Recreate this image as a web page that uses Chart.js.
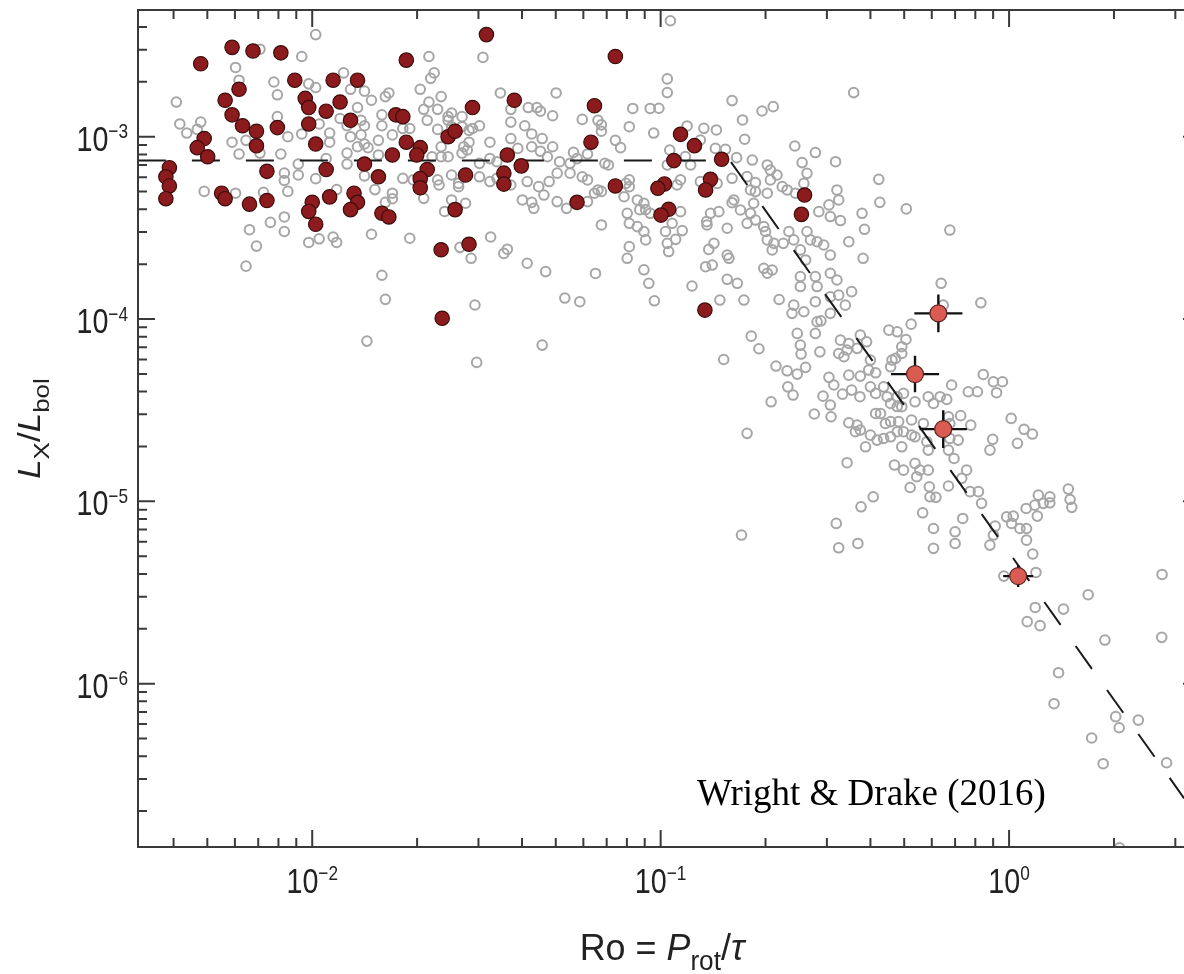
<!DOCTYPE html>
<html lang="en">
<head>
<meta charset="UTF-8" />
<title>Lx/Lbol vs Rossby number</title>
<script src="https://cdn.jsdelivr.net/npm/chart.js"></script>
<style>
  body { margin: 0; background: #fff; }
  #wrap { position: relative; width: 1184px; height: 974px; }
</style>
</head>
<body>
<div id="wrap"><canvas id="rossby"></canvas></div>
<script>
// every star is [log10 Ro, log10 Lx/Lbol]
const grayStars = [
  // Ro < 0.018
  [-1.99,-2.44],[-2.15,-2.52],[-2.03,-2.56],[-2.22,-2.62],[-1.91,-2.65],[-2.21,-2.69],[-2.11,-2.70],[-2.01,-2.71],
  [-1.99,-2.73],[-1.89,-2.74],[-1.85,-2.75],[-1.78,-2.76],[-1.79,-2.78],[-2.10,-2.77],[-1.83,-2.80],[-2.39,-2.81],
  [-1.87,-2.84],[-1.80,-2.88],[-2.10,-2.89],[-1.92,-2.90],[-1.86,-2.91],[-2.32,-2.92],[-1.98,-2.93],[-2.38,-2.93],
  [-1.90,-2.94],[-1.85,-2.94],[-1.80,-2.94],[-2.33,-2.96],[-2.36,-2.98],[-1.95,-2.98],[-2.03,-2.985],[-1.86,-2.99],
  [-1.77,-2.99],[-2.07,-3.00],[-1.89,-3.00],[-2.19,-3.02],[-1.81,-3.02],[-2.23,-3.03],[-1.95,-3.03],[-1.85,-3.04],
  [-1.84,-3.06],[-1.87,-3.055],[-2.15,-3.09],[-1.90,-3.09],[-2.21,-3.095],[-2.09,-3.095],[-1.81,-3.10],[-1.96,-3.12],
  [-2.04,-3.15],[-1.90,-3.15],[-2.08,-3.20],[-2.04,-3.21],[-1.85,-3.215],[-1.99,-3.23],[-2.08,-3.24],[-1.93,-3.29],
  [-1.82,-3.29],[-2.31,-3.30],[-2.07,-3.30],[-2.14,-3.305],[-2.22,-3.31],[-1.77,-3.31],[-1.77,-3.34],[-1.79,-3.36],
  [-2.08,-3.44],[-2.12,-3.47],[-2.18,-3.51],[-2.08,-3.52],[-1.83,-3.535],[-1.94,-3.55],[-1.98,-3.56],[-1.93,-3.58],
  [-2.01,-3.58],[-2.16,-3.60],[-2.19,-3.71],[-1.80,-3.76],[-1.79,-3.892],[-1.843,-4.121],
  // 0.018 < Ro < 0.1
  [-1.665,-2.56],[-1.51,-2.565],[-1.65,-2.65],[-1.66,-2.68],[-1.69,-2.74],[-1.63,-2.78],[-1.665,-2.81],[-1.46,-2.76],
  [-1.30,-2.76],[-1.68,-2.85],[-1.64,-2.85],[-1.61,-2.89],[-1.60,-2.87],[-1.57,-2.89],[-1.67,-2.91],[-1.74,-2.955],
  [-1.72,-2.955],[-1.64,-2.96],[-1.61,-2.91],[-1.60,-2.945],[-1.57,-2.945],[-1.55,-2.965],[-1.54,-2.955],[-1.52,-2.94],
  [-1.49,-3.03],[-1.43,-2.85],[-1.38,-2.84],[-1.355,-2.84],[-1.345,-2.86],[-1.31,-2.885],[-1.225,-2.905],[-1.18,-2.91],
  [-1.17,-2.935],[-1.17,-2.97],[-1.13,-3.02],[-1.115,-3.06],[-1.08,-2.845],[-1.03,-2.845],[-1.09,-2.945],[-1.02,-2.98],
  [-1.43,-2.92],[-1.39,-2.94],[-1.37,-2.985],[-1.34,-3.01],[-1.43,-3.01],[-1.41,-3.064],[-1.37,-3.055],[-1.345,-3.08],
  [-1.31,-3.055],[-1.325,-3.11],[-1.29,-3.137],[-1.26,-3.146],[-1.25,-3.086],[-1.24,-3.12],[-1.21,-3.095],[-1.16,-3.146],
  [-1.15,-3.155],[-1.63,-3.055],[-1.656,-3.11],[-1.63,-3.11],[-1.61,-3.11],[-1.565,-3.055],[-1.55,-3.03],[-1.555,-3.073],
  [-1.57,-3.09],[-1.52,-3.146],[-1.49,-3.12],[-1.47,-3.137],[-1.74,-3.228],[-1.71,-3.237],[-1.64,-3.237],[-1.636,-3.265],
  [-1.60,-3.21],[-1.58,-3.256],[-1.58,-3.274],[-1.52,-3.22],[-1.49,-3.246],[-1.47,-3.228],[-1.43,-3.265],[-1.383,-3.246],
  [-1.35,-3.274],[-1.32,-3.246],[-1.297,-3.20],[-1.26,-3.20],[-1.225,-3.22],[-1.21,-3.237],[-1.18,-3.292],[-1.17,-3.30],
  [-1.19,-3.31],[-1.397,-3.347],[-1.37,-3.36],[-1.364,-3.393],[-1.335,-3.32],[-1.297,-3.356],[-1.27,-3.393],[-1.21,-3.356],
  [-1.68,-3.338],[-1.62,-3.41],[-1.60,-3.347],[-1.56,-3.365],[-1.17,-3.484],[-1.10,-3.256],[-1.09,-3.274],[-1.105,-3.329],
  [-1.09,-3.237],[-1.067,-3.347],[-1.048,-3.365],[-1.06,-3.40],[-1.043,-3.40],[-1.096,-3.42],[-1.03,-3.42],[-1.09,-3.475],
  [-1.067,-3.493],[-1.048,-3.52],[-1.043,-3.566],[-1.09,-3.603],[-1.096,-3.667],[-1.048,-3.73],[-1.034,-3.804],[-1.187,-3.75],
  [-1.33,-3.74],[-1.383,-3.694],[-1.44,-3.617],[-1.45,-3.64],[-1.488,-3.55],[-1.544,-3.667],[-1.576,-3.607],[-1.72,-3.557],
  [-1.533,-3.923],[-1.275,-3.885],[-1.232,-3.905],[-1.018,-3.90],[-1.528,-4.238],[-1.34,-4.143],
  // 0.1 < Ro < 0.5, upper part
  [-0.972,-2.364],[-0.981,-2.683],[-0.981,-2.758],[-1.005,-2.844],[-0.795,-2.802],[-0.765,-2.908],[-0.759,-3.014],[-0.709,-2.859],
  [-0.677,-2.835],[-0.446,-2.758],[-0.924,-2.941],[-0.876,-2.954],[-0.840,-2.963],[-0.886,-3.018],[-0.843,-3.064],[-0.814,-3.069],
  [-0.974,-3.073],[-0.929,-3.109],[-0.914,-3.155],[-0.782,-3.115],[-0.737,-3.128],[-0.981,-3.155],[-0.943,-3.237],[-0.953,-3.265],
  [-0.886,-3.246],[-0.838,-3.256],[-0.795,-3.228],[-0.752,-3.219],[-0.728,-3.252],[-0.742,-3.292],[-0.694,-3.155],[-0.685,-3.183],
  [-0.666,-3.21],[-0.685,-3.237],[-0.694,-3.31],[-0.651,-3.274],[-0.637,-3.292],[-0.613,-3.31],[-0.615,-3.051],[-0.556,-3.087],
  [-0.498,-3.137],[-0.594,-3.142],[-0.580,-3.201],[-0.589,-3.256],[-0.494,-3.292],[-0.489,-3.347],[-0.517,-3.374],[-0.546,-3.411],
  [-0.513,-3.438],[-0.484,-3.46],[-0.422,-3.42],[-0.374,-3.234],[-0.371,-3.36],[-0.295,-3.396],[-0.415,-3.508],[-0.46,-3.576],
  [-0.419,-3.667],[-0.790,-3.347],[-0.795,-3.362],[-0.771,-3.402],[-0.742,-3.42],[-0.728,-3.457],[-0.752,-3.475],[-0.733,-3.365],
  [-0.728,-3.301],[-0.943,-3.411],[-0.938,-3.515],[-0.967,-3.475],[-0.986,-3.52],[-0.981,-3.585],[-0.977,-3.63],[-0.957,-3.563],
  [-0.868,-3.466],[-0.833,-3.411],[-0.857,-3.42],[-0.867,-3.484],[-0.809,-3.502],[-0.847,-3.585],[-0.862,-3.618],[-0.809,-3.649],
  [-0.804,-3.667],[-0.704,-3.493],[-0.699,-3.52],[-0.694,-3.566],[-0.675,-3.585],[-0.68,-3.621],[-0.648,-3.585],[-0.632,-3.52],
  [-0.618,-3.566],[-0.599,-3.621],[-0.58,-3.52],[-0.57,-3.566],[-0.551,-3.576],[-0.532,-3.594],[-0.513,-3.649],[-0.584,-3.676],
  [-0.556,-3.767],[-0.513,-3.749],[-0.494,-3.786],[-0.551,-3.822],[-0.599,-3.767],[-0.599,-3.822],[-0.68,-3.731],[-0.704,-3.722],
  [-0.694,-3.749],[-0.78,-3.804],[-0.809,-3.782],[-0.91,-3.819],[-0.871,-3.713],[-0.852,-3.704],[-0.170,-3.512],[-0.195,-3.804],
  // 0.1 < Ro < 0.5, lower part
  [-0.83,-3.896],[-0.761,-3.896],[-0.66,-3.893],[-0.623,-3.969],[-0.589,-3.96],[-0.618,-3.924],[-0.556,-3.905],[-0.513,-3.878],
  [-0.470,-3.924],[-0.452,-3.85],[-0.489,-3.869],[-0.551,-4.015],[-0.54,-4.01],[-0.513,-3.969],[-0.556,-4.079],[-0.608,-4.079],
  [-0.74,-4.094],[-0.718,-4.163],[-0.819,-4.222],[-0.669,-4.258],[-0.637,-4.284],[-0.608,-4.302],[-0.584,-4.265],[-0.599,-4.143],
  [-0.597,-4.192],[-0.543,-4.18],[-0.484,-4.116],[-0.489,-4.189],[-0.465,-4.17],[-0.474,-4.207],[-0.46,-4.134],[-0.436,-4.161],
  [-0.427,-4.088],[-0.409,-4.125],[-0.345,-4.061],[-0.321,-4.07],[-0.398,-4.225],[-0.403,-4.28],[-0.46,-4.308],[-0.427,-4.313],
  [-0.383,-4.295],[-0.34,-4.262],[-0.336,-4.225],[-0.326,-4.216],[-0.517,-4.32],[-0.503,-4.362],[-0.478,-4.412],[-0.452,-4.39],
  [-0.428,-4.426],[-0.398,-4.372],[-0.383,-4.408],[-0.36,-4.372],[-0.35,-4.426],[-0.340,-4.463],[-0.321,-4.426],[-0.321,-4.48],
  [-0.635,-4.372],[-0.62,-4.417],[-0.683,-4.454],[-0.534,-4.423],[-0.513,-4.472],[-0.559,-4.521],[-0.511,-4.536],[-0.46,-4.569],
  [-0.436,-4.582],[-0.441,-4.618],[-0.427,-4.609],[-0.412,-4.701],[-0.398,-4.637],[-0.379,-4.664],[-0.36,-4.655],[-0.34,-4.646],
  [-0.383,-4.518],[-0.369,-4.518],[-0.34,-4.563],[-0.317,-4.563],[-0.321,-4.618],[-0.355,-4.573],[-0.752,-4.627],[-0.465,-4.788],
  [-0.329,-4.801],[-0.39,-4.975],[-0.425,-5.03],[-0.496,-5.121],[-0.434,-5.231],[-0.768,-5.185],[-0.489,-5.255],
  // Ro > 0.5
  [-0.081,-3.911],[-0.189,-3.924],[-0.281,-4.028],[-0.296,-4.112],[-0.308,-4.152],[-0.308,-4.189],[-0.074,-4.304],[-0.045,-4.344],
  [-0.019,-4.344],[-0.036,-4.404],[-0.117,-4.399],[-0.091,-4.399],[-0.165,-4.362],[-0.232,-4.426],[-0.217,-4.463],[-0.198,-4.426],
  [-0.179,-4.441],[-0.27,-4.454],[-0.303,-4.408],[-0.308,-4.481],[-0.28,-4.554],[-0.246,-4.573],[-0.303,-4.618],[-0.28,-4.637],
  [-0.27,-4.646],[-0.308,-4.701],[-0.236,-4.673],[-0.232,-4.719],[-0.174,-4.536],[-0.139,-4.53],[-0.11,-4.582],[-0.17,-4.573],
  [-0.146,-4.664],[-0.17,-4.655],[-0.174,-4.719],[-0.158,-4.765],[0.006,-4.545],[0.043,-4.605],[0.067,-4.631],[0.024,-4.682],
  [-0.047,-4.66],[-0.055,-4.719],[-0.303,-4.829],[-0.27,-4.792],[-0.256,-4.829],[-0.232,-4.829],[-0.265,-4.865],[-0.284,-4.924],
  [-0.229,-4.92],[-0.227,-4.975],[-0.21,-4.978],[-0.174,-4.916],[-0.136,-4.874],[-0.122,-4.829],[-0.112,-4.947],[-0.088,-4.947],
  [-0.079,-5.011],[-0.248,-5.063],[-0.133,-5.094],[-0.217,-5.149],[-0.155,-5.167],[-0.155,-5.231],[-0.217,-5.258],[-0.055,-5.24],
  [-0.04,-5.136],[-0.045,-5.185],[-0.007,-5.085],[0.012,-5.081],[0.007,-5.121],[0.031,-5.149],[0.05,-5.149],[0.05,-5.213],
  [0.049,-5.039],[0.074,-5.021],[0.081,-5.081],[0.084,-4.966],[0.098,-5.011],[0.117,-4.975],[0.117,-5.008],[0.17,-4.933],
  [0.175,-4.99],[0.18,-5.033],[0.068,-5.289],[0.077,-5.39],[-0.015,-5.41],[0.075,-5.582],[0.052,-5.66],[0.089,-5.682],
  [0.156,-5.591],[0.227,-5.512],[0.275,-5.761],[0.439,-5.401],[0.438,-5.746],[0.142,-5.94],[0.129,-6.11],[0.306,-6.181],
  [0.316,-6.242],[0.371,-6.2],[0.237,-6.298],[0.27,-6.439],[0.452,-6.434],[0.317,-6.90]
];

const darkRedStars = [
  [-2.32,-2.60],[-2.23,-2.51],[-2.17,-2.53],[-2.09,-2.54],[-2.05,-2.69],[-1.94,-2.69],[-1.87,-2.69],[-2.21,-2.74],
  [-2.25,-2.80],[-2.02,-2.79],[-2.01,-2.84],[-1.92,-2.81],[-1.96,-2.86],[-1.89,-2.91],[-1.76,-2.88],[-1.74,-2.89],
  [-2.23,-2.88],[-2.20,-2.94],[-2.16,-2.97],[-2.10,-2.95],[-2.01,-2.93],[-2.31,-3.01],[-2.33,-3.06],[-2.30,-3.11],
  [-2.16,-3.05],[-1.99,-3.04],[-1.77,-3.10],[-2.41,-3.17],[-2.42,-3.22],[-2.41,-3.27],[-2.42,-3.34],[-2.13,-3.19],
  [-1.96,-3.18],[-1.85,-3.15],[-1.81,-3.22],[-2.26,-3.31],[-2.25,-3.34],[-2.18,-3.37],[-2.13,-3.35],[-2.00,-3.36],
  [-2.01,-3.41],[-1.99,-3.48],[-1.95,-3.33],[-1.88,-3.31],[-1.87,-3.36],[-1.89,-3.40],[-1.80,-3.42],[-1.78,-3.44],
  [-1.50,-2.44],[-1.73,-2.58],[-1.13,-2.56],[-1.42,-2.80],[-1.54,-2.84],[-1.19,-2.83],[-1.61,-3.00],[-1.59,-2.97],
  [-1.73,-3.03],[-1.69,-3.06],[-1.70,-3.10],[-1.44,-3.10],[-1.20,-3.03],[-1.40,-3.16],[-1.67,-3.18],[-1.69,-3.23],
  [-1.69,-3.28],[-1.56,-3.21],[-1.45,-3.20],[-1.45,-3.26],[-1.13,-3.27],[-1.24,-3.36],[-1.59,-3.40],[-1.63,-3.62],
  [-1.55,-3.59],[-1.627,-3.996],
  [-0.943,-2.987],[-0.903,-3.049],[-0.962,-3.131],[-0.825,-3.124],[-0.989,-3.259],[-1.008,-3.283],[-0.857,-3.234],
  [-0.871,-3.292],[-0.977,-3.398],[-0.999,-3.43],[-0.587,-3.32],[-0.596,-3.426],[-0.873,-3.951]
];

const lightRedStars = [[-0.203,-3.969],[-0.270,-4.302],[-0.189,-4.604],[0.026,-5.41]];
// half widths of the error bars, in decades: [Ro, Lx/Lbol]
const lightRedErr = [[0.069,0.104],[0.069,0.100],[0.068,0.104],[0.043,0.060]];

// saturated / unsaturated fit (dashed)
const fitRo = [0.00316, 0.158, 3.18];
const fitLx = [7.4e-4, 7.4e-4, 2.35e-7];

const xMajorExp = [-2, -1, 0];
const yMajorExp = [-3, -4, -5, -6];
const xRangeExp = [-2.5, 0.502];
const yRangeExp = [-6.896, -2.305];

const toPts = arr => arr.map(p => ({ x: Math.pow(10, p[0]), y: Math.pow(10, p[1]) }));

const axisColor = "#3a3a3a";
const sansFont = '"Liberation Sans", Arial, sans-serif';

function pieceWidth(ctx, p, sx) {
  ctx.font = (p.italic ? "italic " : "") + p.size + "px " + sansFont;
  return ctx.measureText(p.t).width * sx;
}

// draw a row of text pieces starting at x (baseline y), squeezed horizontally by sx
function drawPieces(ctx, pieces, x, y, sx) {
  let cx = x;
  pieces.forEach(p => {
    const w = pieceWidth(ctx, p, sx);
    ctx.save();
    ctx.translate(cx, y + (p.dy || 0));
    ctx.scale(sx, 1);
    ctx.textAlign = "left";
    ctx.textBaseline = "alphabetic";
    ctx.fillText(p.t, 0, 0);
    ctx.restore();
    cx += w;
  });
  return cx - x;
}

function piecesWidth(ctx, pieces, sx) {
  return pieces.reduce((s, p) => s + pieceWidth(ctx, p, sx), 0);
}

function powLabel(e) {
  return [
    { t: "10", size: 35 },
    { t: e === 0 ? "0" : "\u2212" + Math.abs(e), size: 21, dy: -13 }
  ];
}

const errorBars = {
  id: "errorBars",
  beforeDatasetDraw(chart, args) {
    if (args.index !== 3) return;
    const { ctx, scales } = chart;
    ctx.save();
    ctx.strokeStyle = "#111";
    ctx.lineWidth = 2.4;
    lightRedStars.forEach((p, i) => {
      const [ex, ey] = lightRedErr[i];
      const x0 = scales.x.getPixelForValue(Math.pow(10, p[0] - ex));
      const x1 = scales.x.getPixelForValue(Math.pow(10, p[0] + ex));
      const xc = scales.x.getPixelForValue(Math.pow(10, p[0]));
      const y0 = scales.y.getPixelForValue(Math.pow(10, p[1] - ey));
      const y1 = scales.y.getPixelForValue(Math.pow(10, p[1] + ey));
      const yc = scales.y.getPixelForValue(Math.pow(10, p[1]));
      ctx.beginPath();
      ctx.moveTo(x0, yc); ctx.lineTo(x1, yc);
      ctx.moveTo(xc, y0); ctx.lineTo(xc, y1);
      ctx.stroke();
    });
    ctx.restore();
  }
};

const frame = {
  id: "frame",
  afterDraw(chart) {
    const { ctx, chartArea: a, scales } = chart;
    const xs = scales.x, ys = scales.y;
    const rightX = xs.getPixelForValue(Math.pow(10, 0.548));
    ctx.save();
    ctx.strokeStyle = axisColor;
    ctx.lineWidth = 2;
    ctx.beginPath();
    ctx.moveTo(a.left, a.top); ctx.lineTo(a.left, a.bottom);
    ctx.moveTo(a.left - 1, a.bottom); ctx.lineTo(rightX, a.bottom);
    ctx.moveTo(a.left - 1, a.top); ctx.lineTo(rightX, a.top);
    ctx.moveTo(rightX, a.top); ctx.lineTo(rightX, a.bottom);
    ctx.stroke();

    const majLen = 17, minLen = 9;
    ctx.beginPath();
    for (let k = -3; k <= 0; k++) {
      for (let m = 1; m <= 9; m++) {
        const v = m * Math.pow(10, k);
        const lv = Math.log10(v);
        if (lv < xRangeExp[0] || lv > 0.548) continue;
        const px = xs.getPixelForValue(v);
        const len = m === 1 ? majLen : minLen;
        ctx.moveTo(px, a.bottom); ctx.lineTo(px, a.bottom - len);
        ctx.moveTo(px, a.top); ctx.lineTo(px, a.top + len);
      }
    }
    for (let k = -7; k <= -3; k++) {
      for (let m = 1; m <= 9; m++) {
        const v = m * Math.pow(10, k);
        const lv = Math.log10(v);
        if (lv < yRangeExp[0] || lv > yRangeExp[1]) continue;
        const py = ys.getPixelForValue(v);
        const len = m === 1 ? majLen : minLen;
        ctx.moveTo(a.left, py); ctx.lineTo(a.left + len, py);
        ctx.moveTo(rightX, py); ctx.lineTo(rightX - len, py);
      }
    }
    ctx.stroke();

    // tick labels
    ctx.fillStyle = "#222";
    const sx = 0.82;
    xMajorExp.forEach(e => {
      const pieces = powLabel(e);
      const w = piecesWidth(ctx, pieces, sx);
      const px = xs.getPixelForValue(Math.pow(10, e));
      drawPieces(ctx, pieces, px - w / 2, 893, sx);
    });
    yMajorExp.forEach(e => {
      const pieces = powLabel(e).map(p => p.size === 21 ? Object.assign({}, p, { dy: -12.5 }) : p);
      const w = piecesWidth(ctx, pieces, sx);
      const py = ys.getPixelForValue(Math.pow(10, e));
      drawPieces(ctx, pieces, 128 - w, py + 14, sx);
    });

    // x title
    const xt = [
      { t: "Ro = ", size: 37 },
      { t: "P", size: 37, italic: true },
      { t: "rot", size: 27, dy: 10 },
      { t: "/", size: 37 },
      { t: "\u03c4", size: 37, italic: true }
    ];
    const xsx = 0.97;
    const xw = piecesWidth(ctx, xt, xsx);
    drawPieces(ctx, xt, 662 - xw / 2, 960, xsx);

    // y title, rotated
    const yt = [
      { t: "L", size: 35, italic: true },
      { t: "X", size: 26, dy: 10 },
      { t: "/", size: 35 },
      { t: "L", size: 35, italic: true },
      { t: "bol", size: 26, dy: 10 }
    ];
    ctx.save();
    ctx.translate(40, (a.top + a.bottom) / 2);
    ctx.rotate(-Math.PI / 2);
    ctx.scale(1, 0.87);
    const yw = piecesWidth(ctx, yt, 1);
    drawPieces(ctx, yt, -yw / 2, 0, 1);
    ctx.restore();

    // credit
    ctx.fillStyle = "#000";
    ctx.font = '37px "Liberation Serif", "Times New Roman", serif';
    ctx.textAlign = "left";
    ctx.textBaseline = "alphabetic";
    ctx.fillText("Wright & Drake (2016)", 697, 805);
    ctx.restore();
  }
};

new Chart(document.getElementById("rossby"), {
  type: "scatter",
  data: {
    datasets: [
      {
        label: "stars",
        data: toPts(grayStars),
        pointRadius: 4.8,
        borderWidth: 2,
        borderColor: "#a6a6a6",
        backgroundColor: "rgba(0,0,0,0)",
        order: 4
      },
      {
        type: "line",
        label: "fit",
        data: fitRo.map((x, i) => ({ x: x, y: fitLx[i] })),
        borderColor: "#1a1a1a",
        borderWidth: 2,
        borderDash: [28, 26],
        pointRadius: 0,
        fill: false,
        tension: 0,
        order: 3
      },
      {
        label: "dark",
        data: toPts(darkRedStars),
        pointRadius: 7.2,
        borderWidth: 1.2,
        borderColor: "#3d0c0c",
        backgroundColor: "#8c1b1d",
        order: 2
      },
      {
        label: "light",
        data: toPts(lightRedStars),
        pointRadius: 8.5,
        borderWidth: 1.2,
        borderColor: "#5a2424",
        backgroundColor: "#d95b52",
        order: 1
      }
    ]
  },
  options: {
    responsive: true,
    maintainAspectRatio: false,
    animation: false,
    events: [],
    layout: { autoPadding: false, padding: { left: 138, right: 0, top: 10, bottom: 127 } },
    plugins: { legend: { display: false }, tooltip: { enabled: false } },
    scales: {
      x: { type: "logarithmic", display: false, min: Math.pow(10, xRangeExp[0]), max: Math.pow(10, xRangeExp[1]) },
      y: { type: "logarithmic", display: false, min: Math.pow(10, yRangeExp[0]), max: Math.pow(10, yRangeExp[1]) }
    }
  },
  plugins: [errorBars, frame]
});
</script>
</body>
</html>
